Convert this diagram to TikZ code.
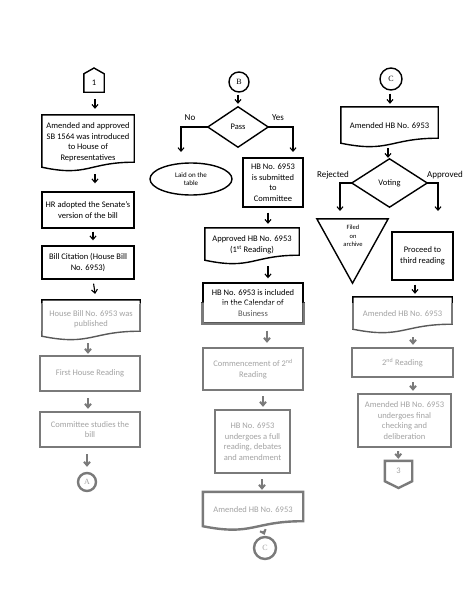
\documentclass[tikz,border=0pt]{standalone}
\usepackage{fontspec}
\setmainfont{Carlito}
\newfontfamily\serifc{Liberation Serif}
\usetikzlibrary{arrows.meta,calc,shapes.geometric}
\newcommand\DrawDoc[2][]{\draw[line width=1.4pt,#1] (#2.north west) -- (#2.north east) -- ([yshift=7pt]#2.south east) .. controls ([yshift=7pt]#2.south) and ([yshift=-8pt]#2.south) .. ([yshift=2pt]#2.south west) -- cycle;}
\begin{document}
\begin{tikzpicture}[x=1pt,y=-1pt,
  box/.style={draw, line width=1.4pt, inner sep=1pt, align=center, font=\fontsize{8.5}{10.5}\selectfont},
  plain/.style={draw=none, inner sep=0pt, align=center, font=\fontsize{8.5}{10.5}\selectfont},
  arr/.style={line width=1.1pt, -{Straight Barb[length=3.5pt,width=6pt]}},
  conn/.style={circle, draw, line width=1.4pt, inner sep=0pt, font=\serifc\fontsize{8}{9}\selectfont},
  lbl/.style={inner sep=0pt, font=\fontsize{9}{10}\selectfont},
  low/.style={line width=2.4pt, draw=black!80, text=black!55},
  lowarr/.style={line width=2pt, draw=black!80},
]
\useasboundingbox (0,0) rectangle (474,613);
\fill[white] (0,0) rectangle (474,613);

% ---------------- Column 1
\node[plain, minimum width=20pt, minimum height=18pt] (p1) at (94,83) {1};
\draw[line width=1.4pt] (p1.south west) -- (p1.north west) -- (94,68) -- (p1.north east) -- (p1.south east) -- cycle;
\node[plain, minimum width=92pt, minimum height=54pt] (d1) at (88,142) {Amended and approved\\SB 1564 was introduced\\to House of\\Representatives};
\DrawDoc{d1}
\node[box, minimum width=92pt, minimum height=36pt] (hr) at (88,210) {HR adopted the Senate’s\\version of the bill};
\node[box, minimum width=92pt, minimum height=33pt] (bc) at (88,262.5) {Bill Citation (House Bill\\No. 6953)};
\node[plain, minimum width=98pt, minimum height=38pt, text=black!55] (pub) at (91,319) {House Bill No. 6953 was\\published};
\DrawDoc{pub}
\draw[line width=2.4pt, black!80] ([yshift=-4pt]pub.north west) -- ([yshift=7pt]pub.south west) ([yshift=-4pt]pub.north east) -- ([yshift=7pt]pub.south east);
\node[box, low, minimum width=100pt, minimum height=35pt] (fhr) at (90,373.5) {First House Reading};
\node[box, low, minimum width=100pt, minimum height=35pt] (cs) at (90,429.5) {Committee studies the\\bill};
\node[conn, low, minimum size=18pt] (A) at (87,482) {A};

\draw[arr, shorten <=7pt, shorten >=6pt] ([xshift=1pt]p1.south) -- ([xshift=7pt]d1.north);
\draw[arr, shorten <=5pt, shorten >=8pt] ([xshift=7pt]d1.south) -- ([xshift=7pt]hr.north);
\draw[arr, shorten <=3pt, shorten >=5pt] ([xshift=5pt]hr.south) -- ([xshift=5pt]bc.north);
\draw[arr, shorten <=4pt, shorten >=6pt] ([xshift=5pt]bc.south) -- ([xshift=5pt]pub.north);
\draw[arr, lowarr, shorten <=5pt, shorten >=1pt] ([xshift=-3pt]pub.south) -- ([xshift=-2pt]fhr.north);
\draw[arr, lowarr, shorten <=6pt, shorten >=2pt] ([xshift=-2pt]fhr.south) -- ([xshift=-2pt]cs.north);
\draw[arr, lowarr, shorten <=6pt, shorten >=5pt] ([xshift=-3pt]cs.south) -- (A.north);

% ---------------- Column 2
\node[conn, minimum size=20pt] (B) at (239,82) {B};
\node[plain, minimum width=60pt, minimum height=40pt] (pass) at (238,127) {Pass};
\draw[line width=1.4pt] (pass.north) -- (pass.east) -- (pass.south) -- (pass.west) -- cycle;
\node[lbl] (nolbl) at (190,118) {No};
\node[lbl] (yeslbl) at (278,118) {Yes};
\coordinate (nob) at (181,152);
\coordinate (yesb) at (293,152);
\node[ellipse, draw, line width=1.4pt, inner sep=0pt, minimum width=82pt, minimum height=32pt, align=center, font=\fontsize{7}{8.5}\selectfont] (laid) at (191,179) {Laid on the\\table};
\node[box, minimum width=60pt, minimum height=49pt] (sub) at (273,182.5) {HB No. 6953\\is submitted\\to\\Committee};
\node[plain, minimum width=94pt, minimum height=34pt] (app) at (252,245) {Approved HB No. 6953\\(1\textsuperscript{st} Reading)};
\DrawDoc{app}
\node[box, minimum width=100pt, minimum height=40pt] (cal) at (253,303) {HB No. 6953 is included\\in the Calendar of\\Business};
\draw[line width=2.4pt, black!80] ([yshift=-20pt]cal.north west) |- (cal.south) -| ([yshift=-20pt]cal.north east);
\node[box, low, minimum width=100pt, minimum height=42pt] (com) at (253,369) {Commencement of 2\textsuperscript{nd}\\Reading};
\node[box, low, minimum width=75pt, minimum height=63pt] (und) at (252.5,441.5) {HB No. 6953\\undergoes a full\\reading, debates\\and amendment};
\node[plain, minimum width=100pt, minimum height=36pt, text=black!55] (amd) at (253,510) {Amended HB No. 6953};
\DrawDoc[line width=2.4pt, black!80]{amd}
\node[conn, low, minimum size=22pt] (C2) at (265,548) {C};

\draw[arr, shorten <=2pt, shorten >=3pt] ([xshift=-1pt]B.south) -- (pass.north);
\draw[arr] (pass.west) -| (nob);
\draw[arr] (pass.east) -| (yesb);
\draw[arr, shorten <=5pt, shorten >=4pt] ([xshift=-5pt]sub.south) -- ([xshift=16pt]app.north);
\draw[arr, shorten <=4pt, shorten >=4pt] ([xshift=16pt]app.south) -- ([xshift=15pt]cal.north);
\draw[arr, lowarr, shorten <=7pt, shorten >=4pt] ([xshift=14pt]cal.south) -- ([xshift=14pt]com.north);
\draw[arr, lowarr, shorten <=5pt, shorten >=2pt] ([xshift=10pt]com.south) -- ([xshift=10.5pt]und.north);
\draw[arr, lowarr, shorten <=5pt, shorten >=2pt] ([xshift=9.5pt]und.south) -- ([xshift=9pt]amd.north);
\draw[arr, lowarr, shorten <=3pt, shorten >=1pt] ([xshift=9pt]amd.south) -- (C2.north);

% ---------------- Column 3
\node[conn, minimum size=22pt] (C) at (391,79) {C};
\node[plain, minimum width=97pt, minimum height=38pt] (amd3) at (389.5,126) {Amended HB No. 6953};
\DrawDoc{amd3}
\node[plain, minimum width=75pt, minimum height=48pt] (vote) at (389.5,183) {Voting};
\draw[line width=1.4pt] (vote.north) -- (vote.east) -- (vote.south) -- (vote.west) -- cycle;
\node[lbl] (rejl) at (333,175) {Rejected};
\node[lbl] (appl) at (445,175) {Approved};
\coordinate (rejb) at (340,211);
\coordinate (appb) at (438,211);
\node[plain, minimum width=71pt, minimum height=64pt] (filed) at (352.5,251) {};
\draw[line width=1.4pt] (filed.north west) -- (filed.north east) -- (filed.south) -- cycle;
\node[plain, font=\fontsize{6.5}{8.5}\selectfont] (filedtxt) at (353,236) {Filed\\on\\archive};
\node[box, minimum width=61pt, minimum height=48pt] (proc) at (422.5,256) {Proceed to\\third reading};
\node[plain, minimum width=99pt, minimum height=34pt, text=black!55] (amd4) at (402.5,314) {Amended HB No. 6953};
\DrawDoc{amd4}
\draw[line width=2.4pt, black!80] ([yshift=-6pt]amd4.north west) -- ([yshift=2pt]amd4.south west) ([yshift=-6pt]amd4.north east) -- ([yshift=7pt]amd4.south east);
\node[box, low, minimum width=101pt, minimum height=29pt] (r2) at (402.5,362.5) {2\textsuperscript{nd} Reading};
\node[box, low, minimum width=93pt, minimum height=53pt] (fin) at (404.5,420.5) {Amended HB No. 6953\\undergoes final\\checking and\\deliberation};
\node[plain, minimum width=27pt, minimum height=20pt, text=black!55] (p3) at (398.5,471) {3};
\draw[line width=2.4pt, black!80] (p3.north west) -- (p3.north east) -- (p3.south east) -- (398.5,488) -- (p3.south west) -- cycle;

\draw[arr, shorten <=3pt, shorten >=3pt] ([xshift=-1pt]C.south) -- ([xshift=0.5pt]amd3.north);
\draw[arr, shorten <=3pt, shorten >=1pt] ([xshift=-1.5pt]amd3.south) -- ([xshift=-1.5pt]vote.north);
\draw[arr] (vote.west) -| (rejb);
\draw[arr] (vote.east) -| (appb);
\draw[arr, shorten <=4pt, shorten >=3pt] ([xshift=-7.5pt]proc.south) -- ([xshift=12.5pt]amd4.north);
\draw[arr, lowarr, shorten <=6pt, shorten >=2pt] ([xshift=10.5pt]amd4.south) -- ([xshift=10.5pt]r2.north);
\draw[arr, lowarr, shorten <=4pt, shorten >=2pt] ([xshift=10.5pt]r2.south) -- ([xshift=8.5pt]fin.north);
\draw[arr, lowarr, shorten <=3pt, shorten >=2pt] ([xshift=-6.5pt]fin.south) -- (p3.north);

% blurred lower part of the page
\fill[white, opacity=0.35] (0,303) rectangle (474,613);
\end{tikzpicture}
\end{document}
